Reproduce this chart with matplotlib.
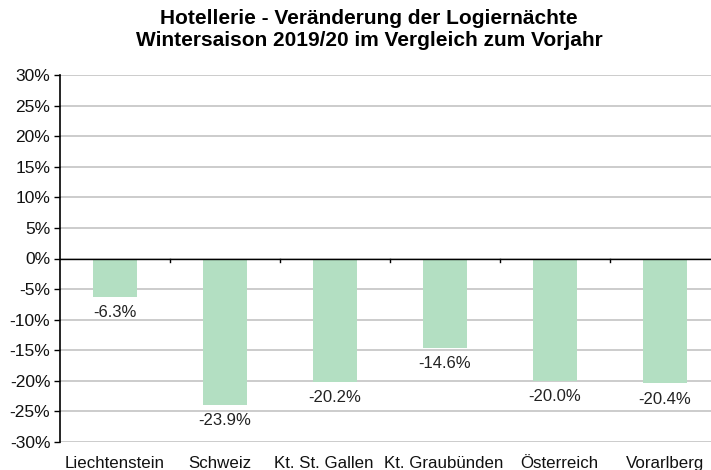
import matplotlib.pyplot as plt
import numpy as np

plt.rcParams['font.family'] = ['Liberation Sans', 'DejaVu Sans']

categories = ["Liechtenstein", "Schweiz", "Kt. St. Gallen", "Kt. Graubünden",
              "Österreich", "Vorarlberg"]
changes = [-6.3, -23.9, -20.2, -14.6, -20.0, -20.4]
yticks = list(range(-30, 35, 5))

fig = plt.figure(figsize=(7.11, 4.70), dpi=100)
ax = fig.add_axes([60 / 711, 28 / 470, 660 / 711, 367 / 470])

x = np.arange(len(categories))
ax.bar(x, changes, width=0.4, color="#b3dfc2", zorder=2)

for xi, v in zip(x, changes):
    ax.annotate("%.1f%%" % v, (xi, v), xytext=(0, -6), textcoords="offset points",
                ha="center", va="top", fontsize=12, color="#222222")

ax.set_xlim(-0.5, len(categories) - 0.5)
ax.set_ylim(-30, 30)
ax.set_yticks(yticks)
ax.set_yticklabels(["%d%%" % t for t in yticks], fontsize=12.5, color="#111111")
ax.yaxis.grid(True, color="#c4c4c4", linewidth=1.2, zorder=0)
ax.tick_params(axis="y", length=4, width=1, pad=3)

# category labels at the bottom (slightly nudged like excel does), boundary ticks on zero line
ax.set_xticks([])
nudge = [0, -4, -8, -1, 3, 0]
for xi, name, dx in zip(x, categories, nudge):
    ax.annotate(name, (xi, -30), xytext=(dx, -18.5), textcoords="offset points",
                ha="center", va="baseline", fontsize=12.2, color="#111111",
                annotation_clip=False)
for b in np.arange(0.5, len(categories) - 0.5, 1):
    ax.plot([b, b], [0, -0.6], color="black", lw=1, zorder=3, clip_on=False)
ax.axhline(0, color="black", lw=1, zorder=3)

for s in ["top", "right", "bottom"]:
    ax.spines[s].set_visible(False)
ax.spines["left"].set_linewidth(1.2)

fig.text(369 / 711, 1 - 9 / 470,
         "Hotellerie - Veränderung der Logiernächte\nWintersaison 2019/20 im Vergleich zum Vorjahr",
         ha="center", va="top", fontsize=15, fontweight="bold", linespacing=1.2,
         multialignment="center")

fig.savefig("out.png", dpi=100)
